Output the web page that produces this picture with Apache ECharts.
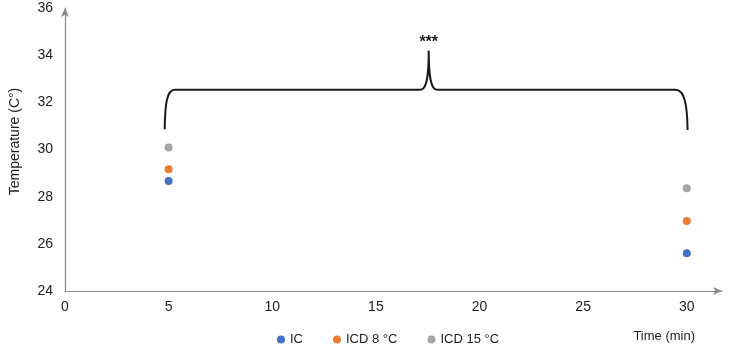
<!DOCTYPE html>
<html>
<head>
<meta charset="utf-8">
<script src="https://cdn.jsdelivr.net/npm/echarts@6/dist/echarts.min.js"></script>
<style>
  html, body { margin: 0; padding: 0; background: #fff; }
  #chart { width: 731px; height: 347px; }
</style>
</head>
<body>
<div id="chart"></div>
<script>
// data
const times = [5, 30];
const icValues = [28.66, 25.6];
const icd8Values = [29.16, 26.97];
const icd15Values = [30.08, 28.36];
const seriesNames = ["IC", "ICD 8 °C", "ICD 15 °C"];

// significance bracket, in data units (x = min, y = °C)
const bracketStart = [4.81, 30.86];
const bracketSegments = [
  ["C", [4.83, 31.9], [4.9, 32.53], [5.3, 32.53]],
  ["L", [17.15, 32.53]],
  ["C", [17.45, 32.53], [17.55, 33.1], [17.55, 34.2]],
  ["C", [17.55, 33.1], [17.65, 32.53], [17.95, 32.53]],
  ["L", [29.45, 32.53]],
  ["C", [29.9, 32.53], [30.02, 31.9], [30.04, 30.83]],
];
const starPos = [17.55, 34.55];
const starText = "***";

const font = "Liberation Sans, Arial, sans-serif";
const chart = echarts.init(document.getElementById("chart"));

const toPoints = (vals) => times.map((t, i) => [t, vals[i]]);

const option = {
  animation: false,
  textStyle: { fontFamily: font },
  grid: { left: 59, right: 9, top: 8, bottom: 56 },
  legend: {
    data: seriesNames,
    left: 272,
    top: 328,
    icon: "circle",
    itemWidth: 8,
    itemHeight: 8,
    itemGap: 30,
    textStyle: { fontSize: 13, color: "#222", fontFamily: font },
  },
  xAxis: {
    type: "value",
    min: 0,
    max: 31.7,
    interval: 5,
    name: "Time (min)",
    nameLocation: "end",
    nameGap: -27,
    nameTextStyle: {
      fontSize: 13,
      color: "#222",
      align: "right",
      verticalAlign: "top",
      padding: [39, 0, 0, 0],
    },
    axisLine: {
      lineStyle: { color: "#8a8a8a", width: 1.2 },
      symbol: ["none", "arrow"],
      symbolSize: [6, 9],
    },
    axisTick: { show: false },
    splitLine: { show: false },
    axisLabel: { fontSize: 14, color: "#222", margin: 9, showMaxLabel: false },
  },
  yAxis: {
    type: "value",
    min: 24,
    max: 36,
    interval: 2,
    name: "Temperature (C°)",
    nameLocation: "middle",
    nameGap: 43,
    nameTextStyle: { fontSize: 14, color: "#222", padding: [0, 0, 0, 16] },
    axisLine: {
      show: true,
      lineStyle: { color: "#8a8a8a", width: 1.2 },
      symbol: ["none", "arrow"],
      symbolSize: [6, 9],
    },
    axisTick: { show: false },
    splitLine: { show: false },
    axisLabel: { fontSize: 14, color: "#222", margin: 12 },
  },
  series: [
    {
      name: seriesNames[0],
      type: "scatter",
      symbolSize: 8,
      itemStyle: { color: "#4472C4", opacity: 1 },
      data: toPoints(icValues),
    },
    {
      name: seriesNames[1],
      type: "scatter",
      symbolSize: 8,
      itemStyle: { color: "#ED7D31", opacity: 1 },
      data: toPoints(icd8Values),
    },
    {
      name: seriesNames[2],
      type: "scatter",
      symbolSize: 8,
      itemStyle: { color: "#A5A5A5", opacity: 1 },
      data: toPoints(icd15Values),
    },
    {
      type: "custom",
      silent: true,
      clip: false,
      data: [starPos],
      renderItem: function (params, api) {
        const p0 = api.coord(bracketStart);
        let d = "M" + p0[0] + " " + p0[1];
        bracketSegments.forEach((seg) => {
          d += " " + seg[0];
          seg.slice(1).forEach((pt) => {
            const c = api.coord(pt);
            d += " " + c[0] + " " + c[1];
          });
        });
        const s = api.coord(starPos);
        return {
          type: "group",
          children: [
            {
              type: "path",
              shape: { pathData: d },
              style: { fill: "none", stroke: "#1a1a1a", lineWidth: 2 },
            },
            {
              type: "text",
              x: s[0],
              y: s[1],
              style: {
                text: starText,
                fill: "#1a1a1a",
                font: "bold 16px " + font,
                align: "center",
                verticalAlign: "middle",
              },
            },
          ],
        };
      },
    },
  ],
};

chart.setOption(option);
</script>
</body>
</html>
